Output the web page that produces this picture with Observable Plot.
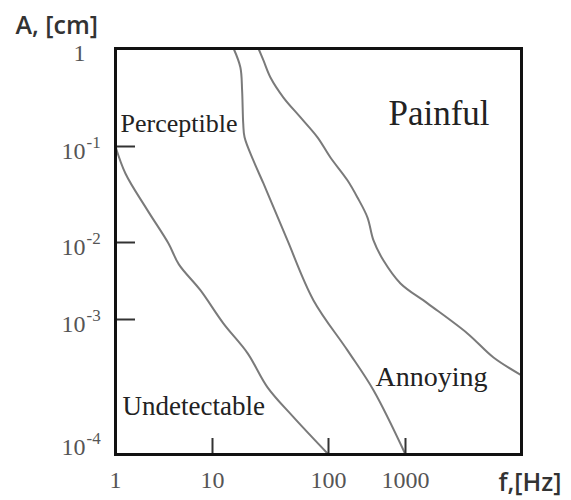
<!DOCTYPE html>
<html>
<head>
<meta charset="utf-8">
<script src="https://cdn.jsdelivr.net/npm/d3@7"></script>
<script src="https://cdn.jsdelivr.net/npm/@observablehq/plot@0.6"></script>
<style>
  html, body { margin: 0; padding: 0; background: #fff; }
</style>
</head>
<body>
<div id="chart"></div>
<script>
// ---- data ----
const xTickValues = [1, 10, 100, 1000];
const xTickLabels = ["1", "10", "100", "1000"];
const xInnerTicks = [10, 100, 1000];

const yTickValues = [1, 1e-1, 1e-2, 1e-3, 1e-4];
const yTickBase = ["1", "10", "10", "10", "10"];
const yTickExp = ["", "-1", "-2", "-3", "-4"];
const yInnerTicks = [1e-1, 1e-2, 1e-3];

const yMin = 7.94e-5;

// curve 1: Perceptible / Undetectable boundary
const c1F = [1, 1.27, 2.14, 3.52, 4.5, 7.5, 12.4, 20.1, 29.8, 49.9, 100];
const c1A = [0.1, 0.052, 0.0216, 0.0097, 0.0052, 0.0024, 0.00093, 0.00053, 0.00028, 0.00016, yMin];
// curve 2: Perceptible / Annoying boundary
const c2F = [15.2, 17.4, 18.0, 18.4, 18.9, 22.5, 27.5, 33.6, 44.3, 74.3, 176.6, 384, 1000];
const c2A = [1, 0.64, 0.373, 0.172, 0.124, 0.0715, 0.0412, 0.0232, 0.0105, 0.00177, 0.00056, 0.000265, yMin];
// curve 3: Annoying / Painful boundary
const c3F = [24.9, 27.5, 31.6, 40.9, 57.4, 80.4, 106, 177, 238, 321, 384, 518, 861, 1549, 3420, 5740, 10000];
const c3A = [1, 0.755, 0.506, 0.316, 0.198, 0.124, 0.0768, 0.0442, 0.0294, 0.0182, 0.0105, 0.00583, 0.00294, 0.00162, 0.00077, 0.00049, 0.000351];

const regionNames = ["Perceptible", "Undetectable", "Painful", "Annoying"];
const regionF = [1.126, 1.18, 601, 408];
const regionA = [0.139, 0.000166, 0.164, 0.000285];

// ---- build tables ----
const curves = [];
[[c1F, c1A, "c1"], [c2F, c2A, "c2"], [c3F, c3A, "c3"]].forEach(([F, A, k]) => {
  F.forEach((f, i) => curves.push({f, a: A[i], k}));
});
const regions = regionNames.map((name, i) => ({name, f: regionF[i], a: regionA[i]}));
const yTicks = yTickValues.map((v, i) => ({v, base: yTickBase[i], exp: yTickExp[i]}));
const xTicks = xTickValues.map((v, i) => ({v, label: xTickLabels[i]}));

const W = 571, H = 500;
const mL = 115, mR = 50, mT = 48, mB = 46;
const innerW = W - mL - mR, innerH = H - mT - mB;
const serif = "'Liberation Serif', 'Times New Roman', serif";
const sans = "'Open Sans', Roboto, 'Liberation Sans', sans-serif";

const chart = Plot.plot({
  width: W,
  height: H,
  marginLeft: mL, marginRight: mR, marginTop: mT, marginBottom: mB,
  style: {background: "#fff", overflow: "visible"},
  x: {type: "log", domain: [1, 10, 100, 1000, 10000], range: [mL, 212, 328, 405, W - mR], axis: null},
  y: {type: "log", domain: [yMin, 1e-3, 1e-2, 1e-1, 1], range: [H - mB, 319, 242, 146, mT], axis: null},
  marks: [
    Plot.line(curves, {x: "f", y: "a", z: "k", stroke: "#7a7a7a", strokeWidth: 2, curve: "catmull-rom"}),
    Plot.ruleX(xInnerTicks, {x: d => d, stroke: "#333", strokeWidth: 2, insetTop: innerH - 16}),
    Plot.ruleY(yInnerTicks, {y: d => d, stroke: "#333", strokeWidth: 2, insetRight: innerW - 20}),
    Plot.frame({stroke: "#111", strokeWidth: 3}),
    // x tick labels
    Plot.text(xTicks, {x: "v", frameAnchor: "bottom", dy: 33, text: "label", fontSize: 24, fontFamily: serif, fill: "#555"}),
    // y tick labels
    Plot.text(yTicks, {y: "v", frameAnchor: "left", dx: -30, dy: 5, text: "base", textAnchor: "end", fontSize: 24, fontFamily: serif, fill: "#555"}),
    Plot.text(yTicks, {y: "v", frameAnchor: "left", dx: -29, dy: -4, text: "exp", textAnchor: "start", fontSize: 17, fontFamily: serif, fill: "#555"}),
    // region labels
    Plot.text(regions.filter((d, i) => i === 0), {x: "f", y: "a", text: "name", textAnchor: "start", lineAnchor: "bottom", fontSize: 26, fontFamily: serif, fill: "#222"}),
    Plot.text(regions.filter((d, i) => i === 1), {x: "f", y: "a", text: "name", textAnchor: "start", lineAnchor: "bottom", fontSize: 27, fontFamily: serif, fill: "#222"}),
    Plot.text(regions.filter((d, i) => i === 2), {x: "f", y: "a", text: "name", textAnchor: "start", lineAnchor: "bottom", fontSize: 35, fontFamily: serif, fill: "#222"}),
    Plot.text(regions.filter((d, i) => i === 3), {x: "f", y: "a", text: "name", textAnchor: "start", lineAnchor: "bottom", fontSize: 28, fontFamily: serif, fill: "#222"}),
    // axis titles
    Plot.text(["A, [cm]"], {frameAnchor: "top-left", dx: -100, dy: -15, textAnchor: "start", lineAnchor: "bottom", fontSize: 25, fontWeight: 600, fontFamily: sans, fill: "#333"}),
    Plot.text(["f,[Hz]"], {frameAnchor: "bottom-right", dx: -23, dy: 36, textAnchor: "start", lineAnchor: "bottom", fontSize: 25, fontWeight: 600, fontFamily: sans, fill: "#333"})
  ]
});
document.getElementById("chart").appendChild(chart);
</script>
</body>
</html>
